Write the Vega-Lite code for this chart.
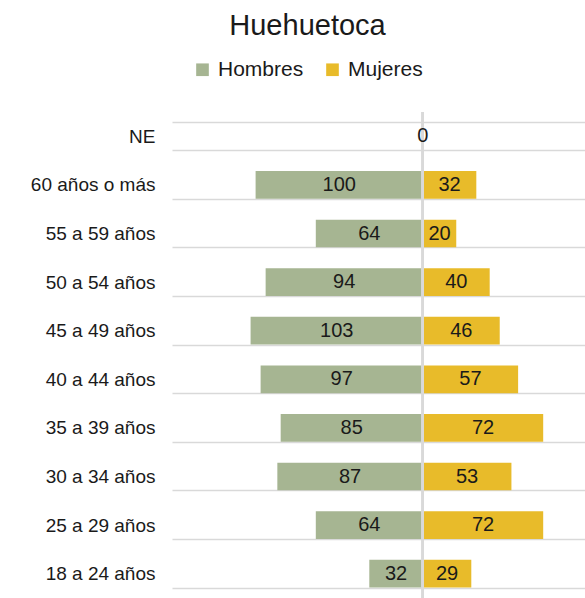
{
  "$schema": "https://vega.github.io/schema/vega-lite/v6.json",
  "autosize": "none",
  "width": 413,
  "height": 486,
  "padding": {"left": 172, "top": 112, "right": 0, "bottom": 0},
  "background": "white",
  "title": {
    "text": "Huehuetoca",
    "anchor": "middle",
    "frame": "group",
    "dx": -71,
    "offset": 18,
    "fontSize": 29,
    "font": "Liberation Sans",
    "fontWeight": "normal",
    "color": "#1a1a1a"
  },
  "config": {
    "view": {"stroke": null},
    "font": "Liberation Sans"
  },
  "data": {
    "values": [
      {"grupo": "NE", "sexo": "Hombres", "valor": 0},
      {"grupo": "NE", "sexo": "Mujeres", "valor": 0},
      {"grupo": "60 años o más", "sexo": "Hombres", "valor": -100},
      {"grupo": "60 años o más", "sexo": "Mujeres", "valor": 32},
      {"grupo": "55 a 59 años", "sexo": "Hombres", "valor": -64},
      {"grupo": "55 a 59 años", "sexo": "Mujeres", "valor": 20},
      {"grupo": "50 a 54 años", "sexo": "Hombres", "valor": -94},
      {"grupo": "50 a 54 años", "sexo": "Mujeres", "valor": 40},
      {"grupo": "45 a 49 años", "sexo": "Hombres", "valor": -103},
      {"grupo": "45 a 49 años", "sexo": "Mujeres", "valor": 46},
      {"grupo": "40 a 44 años", "sexo": "Hombres", "valor": -97},
      {"grupo": "40 a 44 años", "sexo": "Mujeres", "valor": 57},
      {"grupo": "35 a 39 años", "sexo": "Hombres", "valor": -85},
      {"grupo": "35 a 39 años", "sexo": "Mujeres", "valor": 72},
      {"grupo": "30 a 34 años", "sexo": "Hombres", "valor": -87},
      {"grupo": "30 a 34 años", "sexo": "Mujeres", "valor": 53},
      {"grupo": "25 a 29 años", "sexo": "Hombres", "valor": -64},
      {"grupo": "25 a 29 años", "sexo": "Mujeres", "valor": 72},
      {"grupo": "18 a 24 años", "sexo": "Hombres", "valor": -32},
      {"grupo": "18 a 24 años", "sexo": "Mujeres", "valor": 29}
    ]
  },
  "encoding": {
    "y": {
      "field": "grupo",
      "type": "nominal",
      "sort": null,
      "scale": {"paddingInner": 0.43, "paddingOuter": 0.215},
      "axis": {
        "title": null,
        "ticks": false,
        "domain": false,
        "grid": true,
        "tickBand": "extent",
        "gridColor": "#d9d9d9",
        "gridWidth": 1.5,
        "labelFontSize": 19,
        "labelFont": "Liberation Sans",
        "labelColor": "#1a1a1a",
        "labelPadding": 17
      }
    }
  },
  "resolve": {"scale": {"x": "independent"}},
  "layer": [
    {
      "mark": {"type": "bar"},
      "encoding": {
        "x": {
          "field": "valor",
          "type": "quantitative",
          "scale": {"domain": [-150, 97], "nice": false, "zero": true},
          "axis": null
        },
        "color": {
          "field": "sexo",
          "type": "nominal",
          "scale": {"domain": ["Hombres", "Mujeres"], "range": ["#a6b592", "#e8bb2a"]},
          "legend": {
            "title": null,
            "orient": "none",
            "direction": "horizontal",
            "legendX": 20,
            "legendY": -53,
            "symbolType": "square",
            "symbolSize": 160,
            "symbolStrokeWidth": 0,
            "labelFontSize": 21,
            "labelFont": "Liberation Sans",
            "labelColor": "#1a1a1a",
            "labelOffset": 5,
            "columnPadding": 18
          }
        }
      }
    },
    {
      "mark": {"type": "rule", "color": "#d9d9d9", "strokeWidth": 2},
      "encoding": {
        "x": {"datum": 0, "scale": {"domain": [-150, 97], "nice": false}, "axis": null},
        "y": {"value": 0},
        "y2": {"value": 486}
      }
    },
    {
      "transform": [{"filter": "datum.sexo == 'Mujeres' || datum.valor != 0"}],
      "mark": {
        "type": "text",
        "fontSize": 20,
        "font": "Liberation Sans",
        "color": "#1a1a1a",
        "align": "center",
        "baseline": "middle",
        "text": {"expr": "abs(datum.valor)"}
      },
      "encoding": {
        "x": {
          "field": "valor",
          "type": "quantitative",
          "scale": {"domain": [-300, 194], "nice": false, "zero": true},
          "axis": null
        }
      }
    }
  ]
}
